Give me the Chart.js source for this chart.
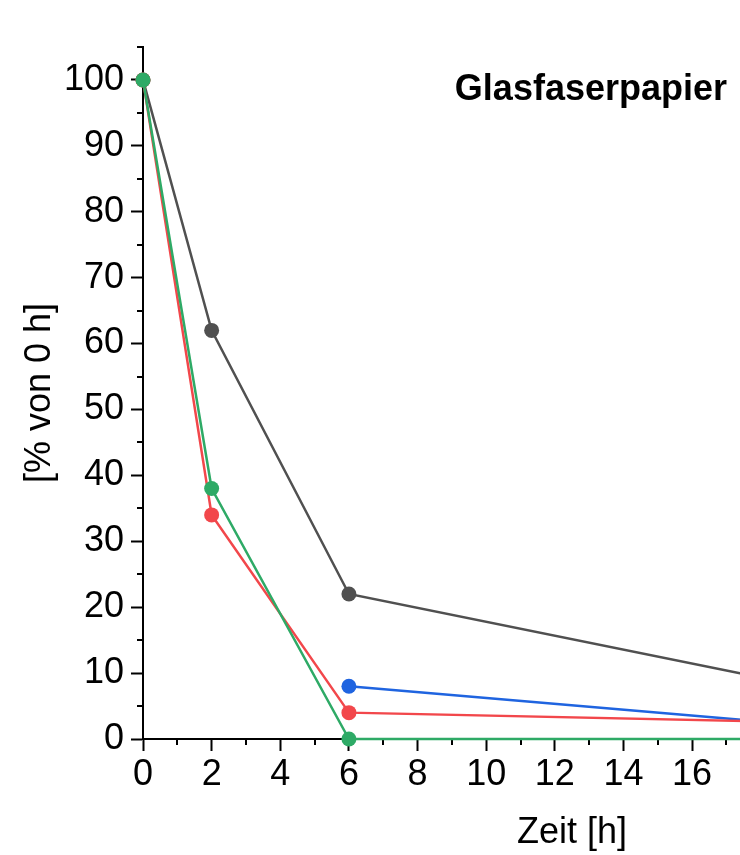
<!DOCTYPE html>
<html>
<head>
<meta charset="utf-8">
<script src="https://cdn.jsdelivr.net/npm/chart.js@4"></script>
<style>
  html, body { margin: 0; padding: 0; background: #fff; overflow: hidden; }
  #wrap { width: 1020px; height: 855px; }
</style>
</head>
<body>
<div id="wrap"><canvas id="grafico"></canvas></div>
<script>
// Daten
const zeit = [0, 2, 6, 24];
const grau = [100, 62, 22, 3];
const blau = [null, null, 8, 0];
const rot = [100, 34, 4, 2];
const gruen = [100, 38, 0, 0];

const xTicks = [0, 2, 4, 6, 8, 10, 12, 14, 16, 18, 20, 22, 24];
const xMinor = [1, 3, 5, 7, 9, 11, 13, 15, 17, 19, 21, 23, 25];
const yTicks = [0, 10, 20, 30, 40, 50, 60, 70, 80, 90, 100];
const yMinor = [5, 15, 25, 35, 45, 55, 65, 75, 85, 95, 105];

const titel = "Glasfaserpapier";
const schrift = "'Liberation Sans', Arial, sans-serif";

function punkte(werte) {
    return zeit.map((x, i) => ({ x: x, y: werte[i] }));
}

function serie(werte, farbe) {
    return {
        data: punkte(werte),
        borderColor: farbe,
        backgroundColor: farbe,
        borderWidth: 2.5,
        pointRadius: 7.5,
        pointHoverRadius: 7.5,
        pointBorderWidth: 0,
        tension: 0,
        spanGaps: false,
        clip: false
    };
}

// kleine Ticks + Titel
const extras = {
    id: "extras",
    beforeDatasetsDraw(chart) {
        const ctx = chart.ctx;
        const xs = chart.scales.x;
        const ys = chart.scales.y;
        ctx.save();
        ctx.strokeStyle = "#000";
        ctx.lineWidth = 2;
        ctx.beginPath();
        xMinor.forEach(v => {
            const px = Math.round(xs.getPixelForValue(v));
            ctx.moveTo(px, chart.chartArea.bottom);
            ctx.lineTo(px, chart.chartArea.bottom + 6);
        });
        yMinor.forEach(v => {
            const py = Math.round(ys.getPixelForValue(v));
            ctx.moveTo(chart.chartArea.left, py);
            ctx.lineTo(chart.chartArea.left - 6, py);
        });
        ctx.stroke();
        ctx.restore();
    },
    afterDraw(chart) {
        const ctx = chart.ctx;
        ctx.save();
        ctx.fillStyle = "#000";
        ctx.font = "bold 36px " + schrift;
        ctx.textAlign = "right";
        ctx.textBaseline = "alphabetic";
        ctx.fillText(titel, 727, 100);
        ctx.restore();
    }
};

// gruen zuerst = oben gezeichnet
new Chart(document.getElementById("grafico"), {
    type: "line",
    data: {
        datasets: [
            serie(gruen, "#2eaa66"),
            serie(rot, "#f2474b"),
            serie(blau, "#1f64e0"),
            serie(grau, "#505050")
        ]
    },
    options: {
        responsive: true,
        maintainAspectRatio: false,
        animation: false,
        events: [],
        layout: { padding: { top: 47, right: 19, bottom: 0, left: 0 } },
        plugins: {
            legend: { display: false },
            tooltip: { enabled: false }
        },
        scales: {
            x: {
                type: "linear",
                min: 0,
                max: 25,
                afterBuildTicks: s => { s.ticks = xTicks.map(v => ({ value: v })); },
                afterFit: s => { s.height = 116; },
                grid: {
                    drawOnChartArea: false,
                    tickLength: 12,
                    tickWidth: 2,
                    tickColor: "#000"
                },
                border: { display: true, color: "#000", width: 2 },
                ticks: {
                    color: "#000",
                    padding: 2,
                    maxRotation: 0,
                    autoSkip: false,
                    font: { family: schrift, size: 36 }
                },
                title: {
                    display: true,
                    text: "Zeit [h]",
                    color: "#000",
                    font: { family: schrift, size: 36 },
                    padding: { top: 0, bottom: 0 }
                }
            },
            y: {
                min: 0,
                max: 105,
                afterBuildTicks: s => { s.ticks = yTicks.map(v => ({ value: v })); },
                afterFit: s => { s.width = 143; },
                grid: {
                    drawOnChartArea: false,
                    tickLength: 12,
                    tickWidth: 2,
                    tickColor: "#000"
                },
                border: { display: true, color: "#000", width: 2 },
                ticks: {
                    color: "#000",
                    padding: 7,
                    autoSkip: false,
                    font: { family: schrift, size: 36 }
                },
                title: {
                    display: true,
                    text: "[% von 0 h]",
                    color: "#000",
                    font: { family: schrift, size: 36 },
                    padding: { top: 18, bottom: 0 }
                }
            }
        }
    },
    plugins: [extras]
});
</script>
</body>
</html>
